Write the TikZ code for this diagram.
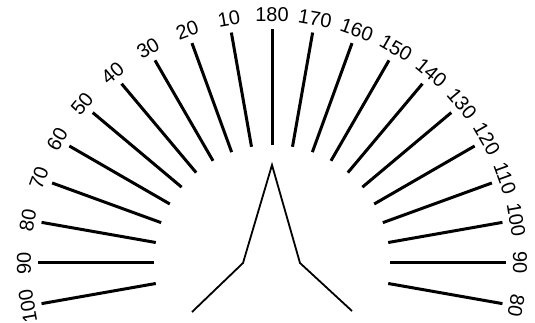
\documentclass[tikz,border=0pt]{standalone}
\usepackage{fontspec}
\setmainfont{Liberation Sans}
\begin{document}
\begin{tikzpicture}[x=1pt,y=1pt,
  tick/.style={line width=3pt},
  lbl/.style={font=\fontsize{20}{22}\selectfont, inner sep=0pt},
  shape line/.style={line width=1.8pt, line join=miter}]
\useasboundingbox (-272pt,-60pt) rectangle (263pt,263pt);
\coordinate (c) at (0,0);
\foreach \a/\t in {-10/80,0/90,10/100,20/110,30/120,40/130,50/140,60/150,70/160,80/170,90/180,100/10,110/20,120/30,130/40,140/50,150/60,160/70,170/80,180/90,190/100}{
  \coordinate (i\a) at (\a:118pt);
  \coordinate (o\a) at (\a:234pt);
  \draw[tick] (i\a) -- (o\a);
  \node[lbl, rotate=\a-90] (l\a) at (\a:248pt) {\t};
}
\coordinate (L1) at (-80,-49);
\coordinate (K1) at (-29,0);
\coordinate (A) at (0,98);
\coordinate (K2) at (28,0);
\coordinate (L2) at (80,-48);
\draw[shape line] (L1) -- (K1) -- (A) -- (K2) -- (L2);
\end{tikzpicture}
\end{document}
